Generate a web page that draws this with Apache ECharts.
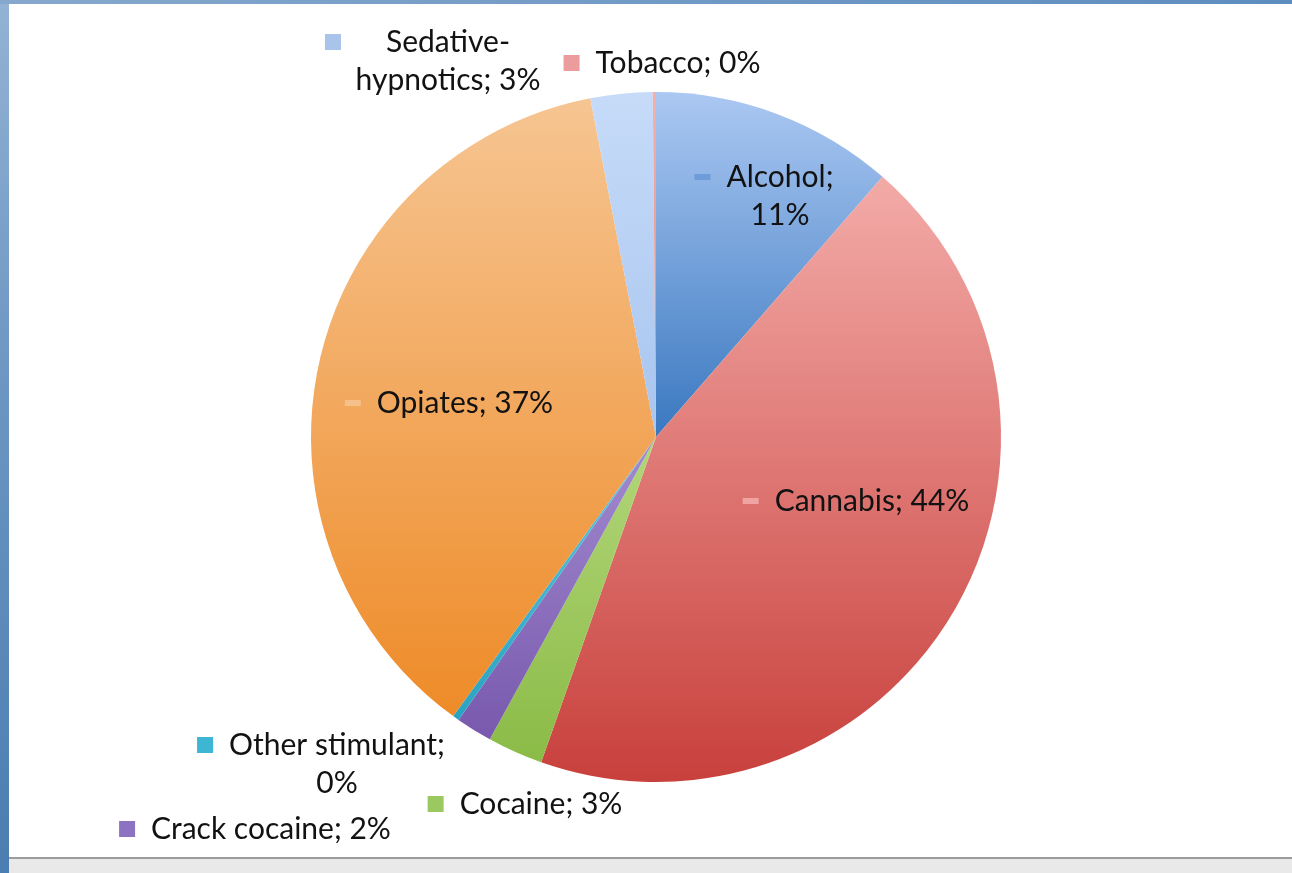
<!DOCTYPE html>
<html>
<head>
<meta charset="utf-8">
<script src="https://cdn.jsdelivr.net/npm/echarts@6/dist/echarts.min.js"></script>
<style>
  html, body { margin: 0; padding: 0; width: 1292px; height: 873px; overflow: hidden; background: #fff; }
  #edgeLeft { position: absolute; left: 0; top: 0; width: 9px; height: 873px;
    background: linear-gradient(#93b3d4, #6f98c3 40%, #4a7db1); }
  #edgeTop { position: absolute; left: 0; top: 0; width: 1292px; height: 4px;
    background: linear-gradient(90deg, #86a8cc, #5d8dbf); }
  #edgeBottom { position: absolute; left: 9px; top: 857px; width: 1283px; height: 16px;
    border-top: 2px solid #9b9b9b; background: #e9e9e9; }
  #chart { position: absolute; left: 0; top: 0; width: 1292px; height: 873px; }
</style>
</head>
<body>
<div id="edgeLeft"></div>
<div id="edgeTop"></div>
<div id="edgeBottom"></div>
<div id="chart"></div>
<script>
// data (share in %, clockwise from 12 o'clock)
const categories = ['Alcohol', 'Cannabis', 'Cocaine', 'Crack cocaine', 'Other stimulant', 'Opiates', 'Sedative-hypnotics', 'Tobacco'];
const shares = [11.4, 44.0, 2.6, 1.7, 0.3, 36.95, 2.9, 0.15];

// where the label text wraps
const wrapAfter = { 'Sedative-hypnotics': 'Sedative-', 'Alcohol': 'Alcohol;', 'Other stimulant': 'Other stimulant;' };

// slice gradients, light (top) -> dark (bottom)
const sliceColors = [
  ['#abc8f2', '#3a78c0'],
  ['#f3aba8', '#c8403c'],
  ['#b2d67a', '#8bbb47'],
  ['#a38bd0', '#7859ad'],
  ['#5fc6de', '#2aa3c2'],
  ['#f6c592', '#ee8b28'],
  ['#c6dbf8', '#a8c5ef'],
  ['#f4b0a8', '#e8867c']
];
// legend-key squares in the labels
const keyColors = ['#6f9bd8', '#f0a3a0', '#9cc860', '#8e72c2', '#3cb6d2', '#f6c08a', '#a9c3ea', '#ec9c9c'];
const insideLabel = [true, true, false, false, false, true, false, false];

// label anchors: centre x of text, top y of text block
const labelAnchor = {
  'Alcohol': [780, 158],
  'Cannabis': [872, 482],
  'Cocaine': [541, 785],
  'Crack cocaine': [271, 810],
  'Other stimulant': [337, 726],
  'Opiates': [465, 384],
  'Sedative-hypnotics': [448, 23],
  'Tobacco': [678, 44]
};
const keyGap = { 'Sedative-hypnotics': 45 };

const KEY = 16;
const rich = { t: { fontFamily: 'Lato', fontSize: 30, lineHeight: 38, color: '#121212' } };
categories.forEach((c, i) => {
  const gap = keyGap[c] || 16;
  rich['k' + i] = { width: KEY, height: insideLabel[i] ? 6 : KEY, backgroundColor: keyColors[i] };
  rich['g' + i] = { width: gap };
  rich['s' + i] = { width: KEY + gap };
});

const chart = echarts.init(document.getElementById('chart'));

chart.setOption({
  animation: false,
  backgroundColor: 'transparent',
  series: [{
    type: 'pie',
    center: [656, 437],
    radius: 345,
    startAngle: 90,
    clockwise: true,
    avoidLabelOverlap: false,
    labelLine: { show: false },
    label: {
      show: true,
      position: 'outside',
      rich: rich,
      formatter: function (p) {
        const i = p.dataIndex;
        const txt = p.name + '; ' + Math.round(p.percent) + '%';
        const cut = wrapAfter[p.name];
        let lines = [txt];
        if (cut) lines = [cut, txt.slice(cut.length).trim()];
        let out = '{k' + i + '|}{g' + i + '|}{t|' + lines[0] + '}{s' + i + '|}';
        if (lines[1]) out += '\n{t|' + lines[1] + '}';
        return out;
      }
    },
    labelLayout: function (params) {
      const a = labelAnchor[categories[params.dataIndex]];
      return { x: a[0], y: a[1], align: 'center', verticalAlign: 'top' };
    },
    emphasis: { disabled: true },
    data: categories.map((c, i) => ({
      name: c,
      value: shares[i],
      itemStyle: {
        color: new echarts.graphic.LinearGradient(0, 0, 0, 1, [
          { offset: 0, color: sliceColors[i][0] },
          { offset: 1, color: sliceColors[i][1] }
        ])
      }
    }))
  }]
});
</script>
</body>
</html>
